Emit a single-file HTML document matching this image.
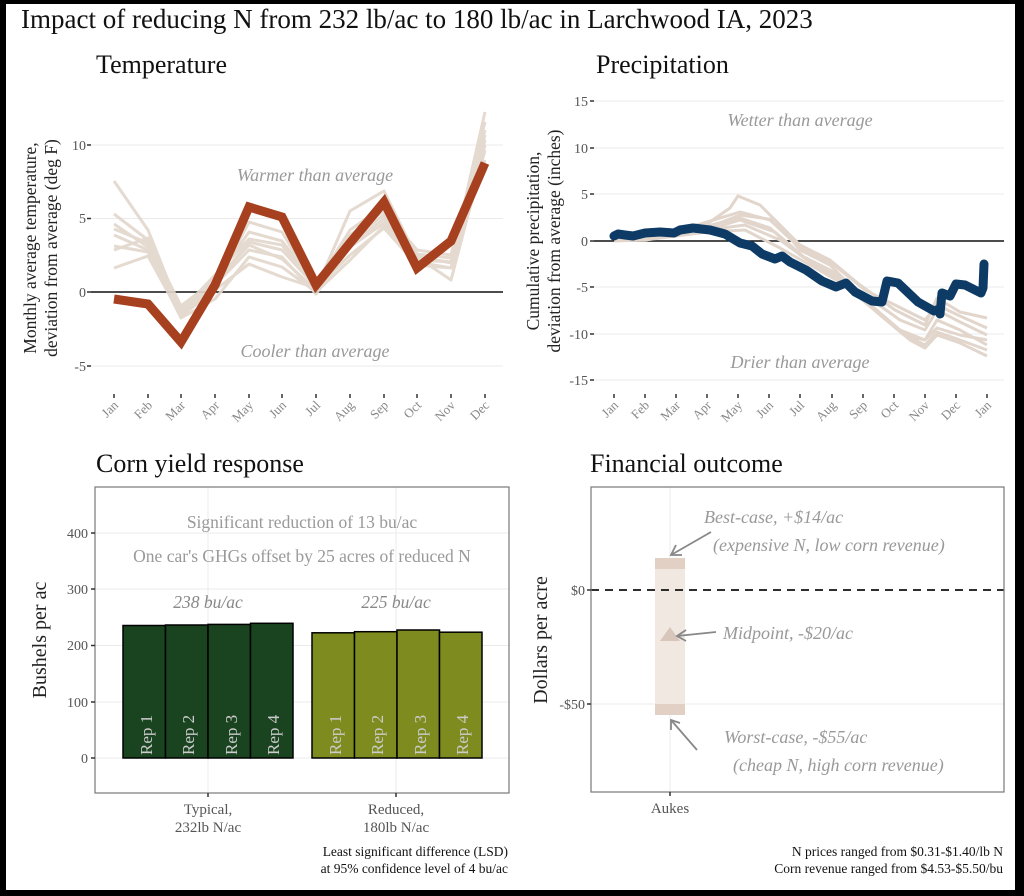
<!DOCTYPE html>
<html><head><meta charset="utf-8"><style>
html,body{margin:0;padding:0;background:#000;}
svg{display:block;}
text{font-family:"Liberation Serif",serif;}
</style></head><body>
<svg width="1024" height="896" viewBox="0 0 1024 896" xmlns="http://www.w3.org/2000/svg">
<rect x="6" y="4" width="1009" height="886" fill="#fff"/>
<text x="21" y="28" font-size="27" fill="#111">Impact of reducing N from 232 lb/ac to 180 lb/ac in Larchwood IA, 2023</text>
<text x="96" y="73" font-size="26" fill="#111">Temperature</text>
<text x="596" y="73" font-size="26" fill="#111">Precipitation</text>
<text x="96" y="472" font-size="26" fill="#111">Corn yield response</text>
<text x="590" y="472" font-size="26" fill="#111">Financial outcome</text>

<!-- Temperature -->
<g stroke="#ebebeb" stroke-width="1">
<line x1="91" y1="145" x2="503" y2="145"/><line x1="91" y1="218.5" x2="503" y2="218.5"/><line x1="91" y1="366" x2="503" y2="366"/>
</g>
<line x1="91" y1="292" x2="503" y2="292" stroke="#111" stroke-width="1.5"/>
<g font-size="14" fill="#555" text-anchor="end">
<text x="86" y="150">10</text><text x="86" y="223">5</text><text x="86" y="297">0</text><text x="86" y="371">-5</text>
</g>
<g stroke="#333" stroke-width="1.5"><line x1="87" y1="145" x2="91" y2="145"/><line x1="87" y1="218.5" x2="91" y2="218.5"/><line x1="87" y1="292" x2="91" y2="292"/><line x1="87" y1="366" x2="91" y2="366"/></g>
<text transform="translate(36,248) rotate(-90)" font-size="17.5" fill="#222" text-anchor="middle">Monthly average temperature,</text>
<text transform="translate(57,248) rotate(-90)" font-size="17.5" fill="#222" text-anchor="middle">deviation from average (deg F)</text>
<g fill="none" stroke="#e2d6cc" stroke-width="3" stroke-linejoin="round" opacity="0.9">
<polyline points="114,181 148,230 181,313 215,286 249,222 282,232 316,289 350,211 384,191 417,258 451,262 485,112"/>
<polyline points="114,214 148,240 181,306 215,280 249,232 282,241 316,284 350,230 384,206 417,254 451,258 485,130"/>
<polyline points="114,224 148,247 181,312 215,283 249,242 282,250 316,287 350,240 384,215 417,262 451,268 485,145"/>
<polyline points="114,235 148,250 181,315 215,285 249,250 282,257 316,294 350,247 384,223 417,260 451,262 485,140"/>
<polyline points="114,246 148,252 181,318 215,299 249,257 282,267 316,292 350,260 384,226 417,257 451,280 485,150"/>
<polyline points="114,250 148,238 181,311 215,275 249,239 282,245 316,286 350,235 384,211 417,250 451,255 485,122"/>
<polyline points="114,268 148,256 181,316 215,290 249,264 282,277 316,288 350,255 384,228 417,265 451,268 485,160"/>
<polyline points="114,229 148,243 181,309 215,282 249,245 282,259 316,290 350,244 384,219 417,256 451,263 485,135"/>
</g>
<polyline fill="none" stroke="#a6401f" stroke-width="9" stroke-linejoin="miter" points="114,299 148,304 181,342 215,285 249,207 282,217 316,285 350,243 384,202 417,268 451,241 485,163"/>
<text x="315" y="181" font-size="18" font-style="italic" fill="#999" text-anchor="middle">Warmer than average</text>
<text x="315" y="357" font-size="18" font-style="italic" fill="#999" text-anchor="middle">Cooler than average</text>
<g stroke="#333" stroke-width="1.5">
<line x1="114" y1="394" x2="114" y2="398"/><line x1="148" y1="394" x2="148" y2="398"/><line x1="181" y1="394" x2="181" y2="398"/><line x1="215" y1="394" x2="215" y2="398"/><line x1="249" y1="394" x2="249" y2="398"/><line x1="282" y1="394" x2="282" y2="398"/><line x1="316" y1="394" x2="316" y2="398"/><line x1="350" y1="394" x2="350" y2="398"/><line x1="384" y1="394" x2="384" y2="398"/><line x1="417" y1="394" x2="417" y2="398"/><line x1="451" y1="394" x2="451" y2="398"/><line x1="485" y1="394" x2="485" y2="398"/>
</g>
<g font-size="13" fill="#888" text-anchor="end">
<text transform="translate(119,406) rotate(-45)">Jan</text><text transform="translate(153,406) rotate(-45)">Feb</text><text transform="translate(186,406) rotate(-45)">Mar</text><text transform="translate(220,406) rotate(-45)">Apr</text><text transform="translate(254,406) rotate(-45)">May</text><text transform="translate(287,406) rotate(-45)">Jun</text><text transform="translate(321,406) rotate(-45)">Jul</text><text transform="translate(355,406) rotate(-45)">Aug</text><text transform="translate(389,406) rotate(-45)">Sep</text><text transform="translate(422,406) rotate(-45)">Oct</text><text transform="translate(456,406) rotate(-45)">Nov</text><text transform="translate(490,406) rotate(-45)">Dec</text>
</g>

<!-- Precipitation -->
<g stroke="#ebebeb" stroke-width="1">
<line x1="594" y1="101" x2="1004" y2="101"/><line x1="594" y1="148" x2="1004" y2="148"/><line x1="594" y1="194" x2="1004" y2="194"/><line x1="594" y1="287" x2="1004" y2="287"/><line x1="594" y1="334" x2="1004" y2="334"/><line x1="594" y1="380" x2="1004" y2="380"/>
</g>
<line x1="594" y1="241" x2="1004" y2="241" stroke="#111" stroke-width="1.5"/>
<g font-size="14" fill="#555" text-anchor="end">
<text x="588" y="106">15</text><text x="588" y="153">10</text><text x="588" y="199">5</text><text x="588" y="246">0</text><text x="588" y="292">-5</text><text x="588" y="339">-10</text><text x="588" y="385">-15</text>
</g>
<g stroke="#333" stroke-width="1.5"><line x1="590" y1="101" x2="594" y2="101"/><line x1="590" y1="148" x2="594" y2="148"/><line x1="590" y1="194" x2="594" y2="194"/><line x1="590" y1="241" x2="594" y2="241"/><line x1="590" y1="287" x2="594" y2="287"/><line x1="590" y1="334" x2="594" y2="334"/><line x1="590" y1="380" x2="594" y2="380"/></g>
<text transform="translate(539,241) rotate(-90)" font-size="17.5" fill="#222" text-anchor="middle">Cumulative precipitation,</text>
<text transform="translate(560,241) rotate(-90)" font-size="17.5" fill="#222" text-anchor="middle">deviation from average (inches)</text>
<g fill="none" stroke="#e2d6cc" stroke-width="3" stroke-linejoin="round">
<polyline points="614,238 645,236 676,232 707,224 730,208 738,196 760,205 800,245 830,260 860,285 895,310 925,325 937,298 960,312 987,318"/>
<polyline points="614,240 645,238 676,233 707,228 740,215 775,220 800,250 830,265 865,300 900,330 925,340 937,320 960,330 987,345"/>
<polyline points="614,239 645,240 676,236 707,230 740,220 775,232 805,258 835,275 870,305 905,335 925,345 937,332 960,340 987,350"/>
<polyline points="614,240 645,239 676,234 707,226 740,218 770,228 800,255 830,270 865,295 900,320 925,330 937,310 960,322 987,335"/>
<polyline points="614,241 645,240 676,235 707,230 745,225 780,240 810,262 840,280 875,310 905,335 925,340 937,328 960,335 987,340"/>
<polyline points="614,240 645,238 676,236 707,232 745,230 780,248 810,265 845,285 880,315 910,340 925,348 937,335 960,343 987,356"/>
<polyline points="614,239 645,237 676,231 707,222 740,212 770,220 800,248 830,262 865,290 895,305 925,320 937,305 960,316 987,328"/>
</g>
<polyline fill="none" stroke="#0d3b66" stroke-width="9" stroke-linejoin="round" stroke-linecap="round" points="614,236 618,234 625,235 633,236 645,233 660,232 674,233 680,230 693,228 710,230 725,234 740,243 752,246 762,254 775,259 782,256 790,262 806,270 822,281 836,287 846,283 855,292 872,301 882,302 887,281 898,283 918,302 934,311 939,309 940,314 942,293 950,296 956,284 965,285 981,293 983,288 984,264"/>
<text x="800" y="126" font-size="18" font-style="italic" fill="#999" text-anchor="middle">Wetter than average</text>
<text x="800" y="368" font-size="18" font-style="italic" fill="#999" text-anchor="middle">Drier than average</text>
<g stroke="#333" stroke-width="1.5">
<line x1="614" y1="394" x2="614" y2="398"/><line x1="645" y1="394" x2="645" y2="398"/><line x1="676" y1="394" x2="676" y2="398"/><line x1="707" y1="394" x2="707" y2="398"/><line x1="738" y1="394" x2="738" y2="398"/><line x1="769" y1="394" x2="769" y2="398"/><line x1="800" y1="394" x2="800" y2="398"/><line x1="832" y1="394" x2="832" y2="398"/><line x1="863" y1="394" x2="863" y2="398"/><line x1="894" y1="394" x2="894" y2="398"/><line x1="925" y1="394" x2="925" y2="398"/><line x1="956" y1="394" x2="956" y2="398"/><line x1="987" y1="394" x2="987" y2="398"/>
</g>
<g font-size="13" fill="#888" text-anchor="end">
<text transform="translate(619,406) rotate(-45)">Jan</text><text transform="translate(650,406) rotate(-45)">Feb</text><text transform="translate(681,406) rotate(-45)">Mar</text><text transform="translate(712,406) rotate(-45)">Apr</text><text transform="translate(743,406) rotate(-45)">May</text><text transform="translate(774,406) rotate(-45)">Jun</text><text transform="translate(805,406) rotate(-45)">Jul</text><text transform="translate(837,406) rotate(-45)">Aug</text><text transform="translate(868,406) rotate(-45)">Sep</text><text transform="translate(899,406) rotate(-45)">Oct</text><text transform="translate(930,406) rotate(-45)">Nov</text><text transform="translate(961,406) rotate(-45)">Dec</text><text transform="translate(992,406) rotate(-45)">Jan</text>
</g>

<!-- Corn yield -->
<g stroke="#ebebeb" stroke-width="1">
<line x1="95" y1="533" x2="509" y2="533"/><line x1="95" y1="589" x2="509" y2="589"/><line x1="95" y1="645.5" x2="509" y2="645.5"/><line x1="95" y1="702" x2="509" y2="702"/><line x1="95" y1="758" x2="509" y2="758"/>
<line x1="208" y1="487" x2="208" y2="793"/><line x1="396" y1="487" x2="396" y2="793"/>
</g>
<g stroke="#000" stroke-width="1.5">
<rect x="123" y="625.5" width="42.5" height="132.5" fill="#1a4320"/>
<rect x="165.5" y="625" width="42.5" height="133" fill="#1a4320"/>
<rect x="208" y="624.4" width="42.5" height="133.6" fill="#1a4320"/>
<rect x="250.5" y="623.3" width="42.5" height="134.7" fill="#1a4320"/>
<rect x="312" y="632.8" width="42.5" height="125.2" fill="#7e8c1f"/>
<rect x="354.5" y="631.7" width="42.5" height="126.3" fill="#7e8c1f"/>
<rect x="397" y="630" width="42.5" height="128" fill="#7e8c1f"/>
<rect x="439.5" y="632.2" width="42.5" height="125.8" fill="#7e8c1f"/>
</g>
<g font-size="17" fill="#ccc" text-anchor="start">
<text transform="translate(152,755) rotate(-90)">Rep 1</text><text transform="translate(194,755) rotate(-90)">Rep 2</text><text transform="translate(237,755) rotate(-90)">Rep 3</text><text transform="translate(279,755) rotate(-90)">Rep 4</text>
<text transform="translate(341,755) rotate(-90)">Rep 1</text><text transform="translate(383,755) rotate(-90)">Rep 2</text><text transform="translate(426,755) rotate(-90)">Rep 3</text><text transform="translate(468,755) rotate(-90)">Rep 4</text>
</g>
<rect x="95" y="487" width="414" height="306" fill="none" stroke="#777" stroke-width="1.2"/>
<text x="302" y="528" font-size="17.5" fill="#999" text-anchor="middle">Significant reduction of 13 bu/ac</text>
<text x="302" y="562" font-size="17.5" fill="#999" text-anchor="middle">One car's GHGs offset by 25 acres of reduced N</text>
<text x="208" y="608" font-size="17.5" font-style="italic" fill="#888" text-anchor="middle">238 bu/ac</text>
<text x="396" y="608" font-size="17.5" font-style="italic" fill="#888" text-anchor="middle">225 bu/ac</text>
<g font-size="14" fill="#555" text-anchor="end">
<text x="88" y="538">400</text><text x="88" y="594">300</text><text x="88" y="650">200</text><text x="88" y="707">100</text><text x="88" y="763">0</text>
</g>
<g stroke="#333" stroke-width="1.5"><line x1="91" y1="533" x2="95" y2="533"/><line x1="91" y1="589" x2="95" y2="589"/><line x1="91" y1="645.5" x2="95" y2="645.5"/><line x1="91" y1="702" x2="95" y2="702"/><line x1="91" y1="758" x2="95" y2="758"/>
<line x1="208" y1="793" x2="208" y2="797"/><line x1="396" y1="793" x2="396" y2="797"/></g>
<text transform="translate(46,640) rotate(-90)" font-size="20" fill="#222" text-anchor="middle">Bushels per ac</text>
<g font-size="15" fill="#555" text-anchor="middle">
<text x="208" y="814">Typical,</text><text x="208" y="832">232lb N/ac</text>
<text x="396" y="814">Reduced,</text><text x="396" y="832">180lb N/ac</text>
</g>
<g font-size="13.5" fill="#111" text-anchor="end">
<text x="508" y="856">Least significant difference (LSD)</text><text x="508" y="873">at 95% confidence level of 4 bu/ac</text>
</g>

<!-- Financial -->
<g stroke="#ebebeb" stroke-width="1">
<line x1="591" y1="704" x2="1004" y2="704"/><line x1="670" y1="487" x2="670" y2="792"/>
</g>
<rect x="655" y="558" width="30" height="157" fill="#f1e8e2"/>
<rect x="655" y="558" width="30" height="11" fill="#e2d0c5"/>
<rect x="655" y="704" width="30" height="11" fill="#e2d0c5"/>
<line x1="591" y1="590" x2="1004" y2="590" stroke="#111" stroke-width="1.8" stroke-dasharray="8,6"/>
<polygon points="670,627 660,641 680,641" fill="#d9c6ba"/>
<rect x="591" y="487" width="413" height="305" fill="none" stroke="#777" stroke-width="1.2"/>
<g font-size="18" font-style="italic" fill="#999">
<text x="704" y="523">Best-case, +$14/ac</text>
<text x="713" y="551">(expensive N, low corn revenue)</text>
<text x="723" y="639">Midpoint, -$20/ac</text>
<text x="724" y="743">Worst-case, -$55/ac</text>
<text x="733" y="771">(cheap N,  high corn revenue)</text>
</g>
<g stroke="#888" stroke-width="1.8" fill="none">
<line x1="711" y1="532" x2="671" y2="555"/><polyline points="676,545 671,555 682,555"/>
<line x1="716" y1="632" x2="677" y2="636"/><polyline points="686,630 677,636 686,641"/>
<line x1="697" y1="750" x2="671" y2="720"/><polyline points="671,730 671,720 680,723"/>
</g>
<g font-size="14" fill="#555" text-anchor="end">
<text x="585" y="595">$0</text><text x="585" y="709">-$50</text>
</g>
<g stroke="#333" stroke-width="1.5"><line x1="587" y1="590" x2="591" y2="590"/><line x1="587" y1="704" x2="591" y2="704"/><line x1="670" y1="792" x2="670" y2="796"/></g>
<text transform="translate(547,640) rotate(-90)" font-size="20" fill="#222" text-anchor="middle">Dollars per acre</text>
<text x="670" y="813" font-size="15" fill="#555" text-anchor="middle">Aukes</text>
<g font-size="13.5" fill="#111" text-anchor="end">
<text x="1003" y="856">N prices ranged from $0.31-$1.40/lb N</text><text x="1003" y="873">Corn revenue ranged from $4.53-$5.50/bu</text>
</g>
</svg>
</body></html>
